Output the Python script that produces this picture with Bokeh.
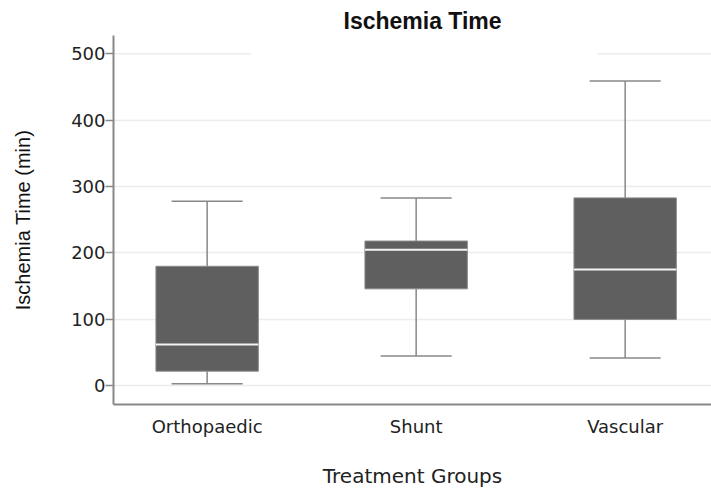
from bokeh.plotting import figure
from bokeh.models import Range1d, FixedTicker, ColumnDataSource
from bokeh.embed import file_html
from bokeh.resources import INLINE

# ---- data ----
groups = ["Orthopaedic", "Shunt", "Vascular"]
lower_whisker = [3, 45, 42]
q1 = [22, 146, 100]
median = [62, 205, 175]
q3 = [180, 218, 283]
upper_whisker = [278, 283, 459]
y_ticks = [0, 100, 200, 300, 400, 500]

xs = list(range(len(groups)))
box_w = 0.49
cap_w = 0.34
x_lo, x_hi = -0.448, 2.413

src = ColumnDataSource(dict(
    x=xs,
    lw=lower_whisker, q1=q1, med=median, q3=q3, uw=upper_whisker,
    l=[x - box_w / 2 for x in xs], r=[x + box_w / 2 for x in xs],
    cl=[x - cap_w / 2 for x in xs], cr=[x + cap_w / 2 for x in xs],
))

p = figure(width=711, height=490, output_backend="svg", toolbar_location=None,
           x_range=Range1d(x_lo, x_hi), y_range=Range1d(-28.2, 527.6),
           min_border_left=113, min_border_right=0, min_border_top=35,
           min_border_bottom=86)

p.background_fill_color = "white"
p.border_fill_color = "white"
p.outline_line_color = None

# grid
p.xgrid.visible = False
p.ygrid.ticker = FixedTicker(ticks=y_ticks[:-1])
p.ygrid.grid_line_color = "#ececec"
p.ygrid.grid_line_width = 1.5
# the 500 gridline is interrupted in the reference
top = y_ticks[-1]
p.segment(x0=[x_lo, 1.867], y0=[top, top], x1=[0.2105, x_hi], y1=[top, top],
          line_color="#ececec", line_width=1.5)

# whiskers
p.segment(x0="x", y0="q3", x1="x", y1="uw", source=src, line_color="#888888", line_width=1.5)
p.segment(x0="x", y0="lw", x1="x", y1="q1", source=src, line_color="#888888", line_width=1.5)
p.segment(x0="cl", y0="uw", x1="cr", y1="uw", source=src, line_color="#888888", line_width=1.5)
p.segment(x0="cl", y0="lw", x1="cr", y1="lw", source=src, line_color="#888888", line_width=1.5)

# boxes
p.quad(left="l", right="r", bottom="q1", top="q3", source=src,
       fill_color="#5f5f5f", line_color="#8a8a8a", line_width=1)
# medians
p.segment(x0="l", y0="med", x1="r", y1="med", source=src, line_color="#f4f4f4", line_width=2)

# title
p.title.text = "Ischemia Time"
p.title.align = "left"
p.title.offset = 230
p.title.text_font = "Liberation Sans"
p.title.text_font_size = "23px"
p.title.text_font_style = "bold"
p.title.text_color = "#111111"
p.title.standoff = 3

# x axis
p.xaxis.ticker = FixedTicker(ticks=xs)
p.xaxis.major_label_overrides = {i: g for i, g in enumerate(groups)}
p.xaxis.major_tick_line_color = None
p.xaxis.minor_tick_line_color = None
p.xaxis.major_tick_out = 0
p.xaxis.major_tick_in = 0
p.xaxis.major_label_standoff = 11
p.xaxis.major_label_text_font = "DejaVu Sans"
p.xaxis.major_label_text_font_size = "18px"
p.xaxis.major_label_text_color = "#222222"
p.xaxis.axis_label = "Treatment Groups"
p.xaxis.axis_label_text_font = "DejaVu Sans"
p.xaxis.axis_label_text_font_size = "20px"
p.xaxis.axis_label_text_font_style = "normal"
p.xaxis.axis_label_text_color = "#222222"
p.xaxis.axis_label_standoff = 24
p.xaxis.axis_line_color = "#888888"
p.xaxis.axis_line_width = 2

# y axis
p.yaxis.ticker = FixedTicker(ticks=y_ticks)
p.yaxis.minor_tick_line_color = None
p.yaxis.major_tick_out = 8
p.yaxis.major_tick_in = 0
p.yaxis.major_tick_line_color = "#888888"
p.yaxis.major_tick_line_width = 1.5
p.yaxis.major_label_standoff = 0
p.yaxis.major_label_text_font = "DejaVu Sans"
p.yaxis.major_label_text_font_size = "18px"
p.yaxis.major_label_text_color = "#222222"
p.yaxis.axis_label = "Ischemia Time (min)"
p.yaxis.axis_label_text_font = "Liberation Sans"
p.yaxis.axis_label_text_font_size = "20px"
p.yaxis.axis_label_text_font_style = "normal"
p.yaxis.axis_label_text_color = "#111111"
p.yaxis.axis_label_standoff = 34
p.yaxis.axis_line_color = "#888888"
p.yaxis.axis_line_width = 2

open("out.html", "w").write(file_html(p, INLINE))
